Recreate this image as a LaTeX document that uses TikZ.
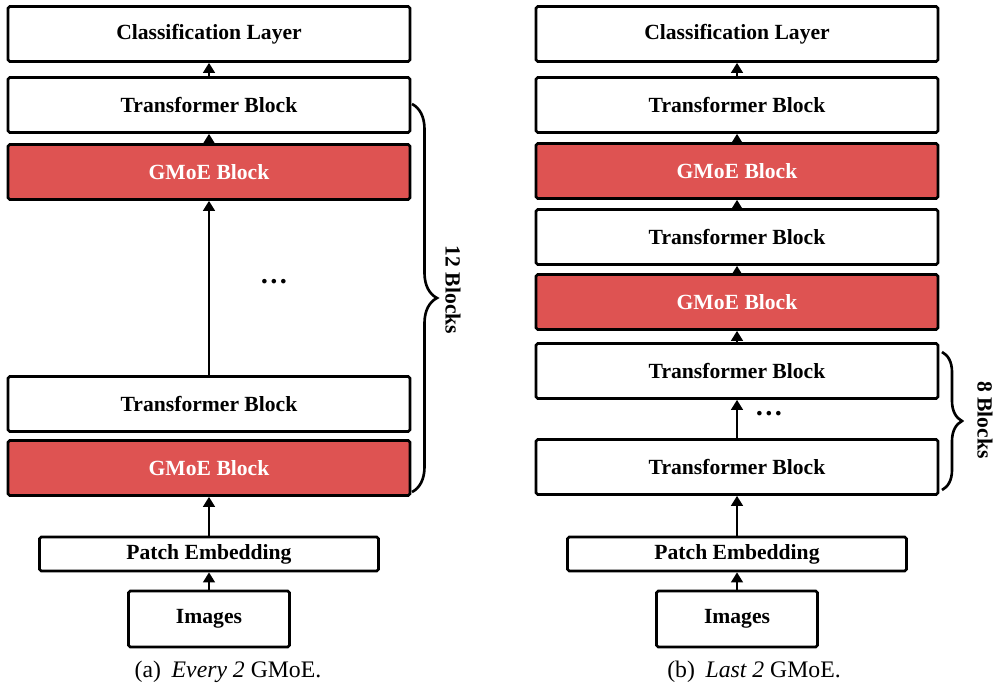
\documentclass[tikz,border=0pt]{standalone}
\usepackage{fontspec}
\setmainfont{Liberation Serif}
\usetikzlibrary{arrows.meta,decorations.pathreplacing}
\definecolor{moered}{RGB}{222,83,82}
\begin{document}
\begin{tikzpicture}[x=0.02cm, y=-0.02cm,
    block/.style={draw, line width=1.5pt, rounded corners=1pt, minimum width=8.04cm, minimum height=1.1cm, inner sep=0pt, font=\fontsize{12.3}{14}\selectfont\bfseries},
    moe/.style={block, fill=moered, text=white},
    arr/.style={-{Triangle[length=2mm,width=2.3mm]}, line width=1.5pt}]
    \useasboundingbox (0,0) rectangle (993,686);

    % (a) every 2
    \node (cls1) [block] at (209,34) {Classification Layer};
    \node (tba1) [block] at (209,105) {Transformer Block};
    \node (gma1) [moe] at (209,172) {GMoE Block};
    \node (tba2) [block] at (209,404) {Transformer Block};
    \node (gma2) [moe] at (209,468) {GMoE Block};
    \node (pea) [block, minimum width=6.78cm, minimum height=0.68cm] at (209,554) {Patch Embedding};
    \node (ima) [block, minimum width=3.22cm, minimum height=1.12cm] at (209,619) {Images};
    \node (dota) at (274,282) {\fontsize{16}{16}\selectfont\bfseries\dots};
    \node (capa) at (228,672) {\fontsize{13.5}{15}\selectfont (a)\hspace{0.45em}\textit{Every 2} GMoE.};

    \draw[arr] (ima) -- (pea);
    \draw[arr] (pea) -- (gma2);
    \draw[arr] (tba2) -- (gma1);
    \draw[arr] (gma1) -- (tba1);
    \draw[arr] (tba1) -- (cls1);

    \draw[line width=1.5pt, decorate, decoration={brace, amplitude=0.5cm}] (412,104) -- (412,492);
    \node (bra) [rotate=-90, font=\fontsize{12.3}{14}\selectfont\bfseries] at (453,290) {12 Blocks};

    % (b) last 2
    \node (cls2) [block] at (737,34) {Classification Layer};
    \node (tbb1) [block] at (737,105) {Transformer Block};
    \node (gmb1) [moe] at (737,171) {GMoE Block};
    \node (tbb2) [block] at (737,237) {Transformer Block};
    \node (gmb2) [moe] at (737,302) {GMoE Block};
    \node (tbb3) [block] at (737,371) {Transformer Block};
    \node (tbb4) [block] at (737,467) {Transformer Block};
    \node (peb) [block, minimum width=6.78cm, minimum height=0.68cm] at (737,554) {Patch Embedding};
    \node (imb) [block, minimum width=3.22cm, minimum height=1.12cm] at (737,619) {Images};
    \node (dotb) at (769,414) {\fontsize{16}{16}\selectfont\bfseries\dots};
    \node (capb) at (754,672) {\fontsize{13.5}{15}\selectfont (b)\hspace{0.45em}\textit{Last 2} GMoE.};

    \draw[arr] (imb) -- (peb);
    \draw[arr] (peb) -- (tbb4);
    \draw[arr] (tbb4) -- (tbb3);
    \draw[arr] (tbb3) -- (gmb2);
    \draw[arr] (gmb2) -- (tbb2);
    \draw[arr] (tbb2) -- (gmb1);
    \draw[arr] (gmb1) -- (tbb1);
    \draw[arr] (tbb1) -- (cls2);

    \draw[line width=1.5pt, decorate, decoration={brace, amplitude=0.4cm}] (942,352) -- (942,490);
    \node (brb) [rotate=-90, font=\fontsize{12.3}{14}\selectfont\bfseries] at (985,420) {8 Blocks};
\end{tikzpicture}
\end{document}
